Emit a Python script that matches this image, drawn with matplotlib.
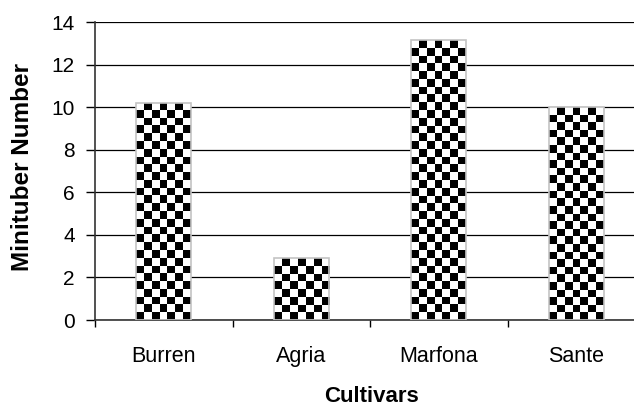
import numpy as np
import matplotlib
matplotlib.use("Agg")
import matplotlib.pyplot as plt

cultivars = ["Burren", "Agria", "Marfona", "Sante"]
minitubers = [10.2, 2.9, 13.15, 10.0]
yticks = [0, 2, 4, 6, 8, 10, 12, 14]

plt.rcParams['font.family'] = ['Liberation Sans', 'DejaVu Sans']

fig = plt.figure(figsize=(6.34, 4.08), dpi=100)
ax = fig.add_axes([95 / 634, 1 - 320 / 408, 550 / 634, 298 / 408])

x = np.arange(len(cultivars))
bars = ax.bar(x, minitubers, width=0.4, facecolor='none', edgecolor='#c4c4c4',
              linewidth=1.2, zorder=3)

ax.set_xlim(-0.5, len(cultivars) - 0.5)
ax.set_ylim(0, 14)
ax.set_yticks(yticks)

# checkerboard fill, clipped to each bar
px_per_x = 550 / len(cultivars)
px_per_y = 298 / 14
cell = 7.7
for rect in bars:
    x0, w, h = rect.get_x(), rect.get_width(), rect.get_height()
    ncol = max(1, int(round(w * px_per_x / cell)))
    nrow = max(1, int(round(h * px_per_y / cell)))
    board = (np.add.outer(np.arange(nrow), np.arange(ncol)) % 2).astype(float)
    im = ax.imshow(board, cmap='gray', extent=(x0, x0 + w, 0, h), origin='lower',
                   aspect='auto', interpolation='nearest', zorder=2)
    im.set_clip_path(rect)

ax.grid(axis='y', color='black', linewidth=0.9, zorder=0)
ax.set_axisbelow(True)

# category ticks sit at the boundaries
ax.set_xticks(np.arange(len(cultivars) + 1) - 0.5)
ax.set_xticklabels([])
ax.set_xticks(x, minor=True)
ax.set_xticklabels(cultivars, minor=True, fontsize=15.5)
ax.tick_params(axis='x', which='minor', length=0, pad=19)
ax.tick_params(axis='x', which='major', length=5, width=1, direction='out')
ax.tick_params(axis='y', length=6.5, width=1, direction='out', labelsize=15, pad=8)

for s in ['top', 'right']:
    ax.spines[s].set_visible(False)
for s in ['left', 'bottom']:
    ax.spines[s].set_linewidth(1.2)
    ax.spines[s].set_color('#333333')

ax.set_xlabel('Cultivars', fontsize=16, fontweight='bold')
ax.set_ylabel('Minituber Number', fontsize=17.5, fontweight='bold')
ax.xaxis.set_label_coords(0.503, -0.222)
ax.yaxis.set_label_coords(-0.11, 0.515)

fig.savefig('out.png', dpi=100)
